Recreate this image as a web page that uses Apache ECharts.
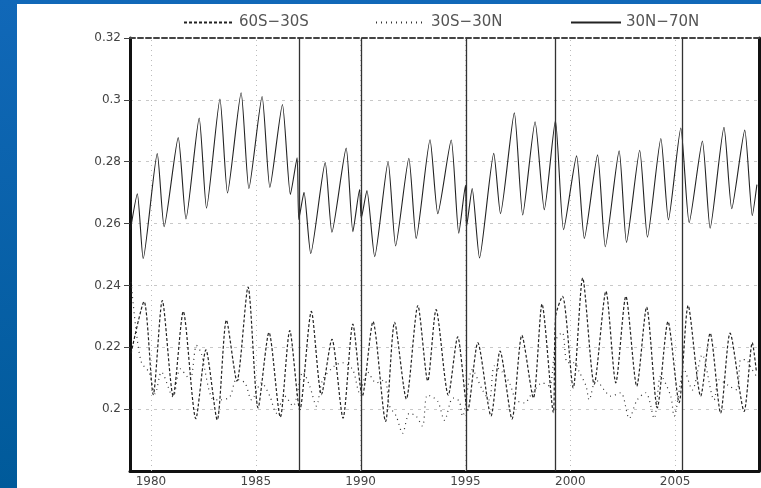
<!DOCTYPE html>
<html>
<head>
<meta charset="utf-8">
<script src="https://cdn.jsdelivr.net/npm/echarts@6/dist/echarts.min.js"></script>
<style>
  html, body { margin: 0; padding: 0; }
  body { width: 761px; height: 488px; background: linear-gradient(#1168b8, #005a9a); position: relative; overflow: hidden; }
  #chart { position: absolute; left: 17px; top: 4px; width: 744px; height: 484px; background: #fff; }
</style>
</head>
<body>
<div id="chart"></div>
<script>
// 60S-30S (dashed)
const southX = [1979.05, 1979.67, 1980.11, 1980.54, 1981.06, 1981.54, 1982.14, 1982.62, 1983.16, 1983.6,
  1984.1, 1984.63, 1985.11, 1985.63, 1986.17, 1986.62, 1987.1, 1987.65, 1988.13, 1988.63,
  1989.16, 1989.63, 1990.08, 1990.59, 1991.19, 1991.62, 1992.18, 1992.73, 1993.2, 1993.6,
  1994.18, 1994.63, 1995.11, 1995.59, 1996.22, 1996.65, 1997.22, 1997.69, 1998.24, 1998.65,
  1999.19, 1999.3, 1999.63, 2000.14, 2000.59, 2001.14, 2001.7, 2002.17, 2002.65, 2003.17,
  2003.64, 2004.15, 2004.66, 2005.19, 2005.62, 2006.22, 2006.67, 2007.17, 2007.62, 2008.29,
  2008.68, 2008.88];
const southY = [0.218, 0.2348, 0.2047, 0.2351, 0.2042, 0.2316, 0.1969, 0.2192, 0.1965, 0.2288,
  0.2091, 0.2395, 0.2004, 0.2248, 0.1974, 0.2254, 0.1998, 0.2316, 0.2047, 0.2226,
  0.1971, 0.2275, 0.2042, 0.2283, 0.196, 0.2281, 0.2033, 0.2335, 0.2091, 0.2322,
  0.2045, 0.2234, 0.1996, 0.2215, 0.1978, 0.2188, 0.1968, 0.2239, 0.2036, 0.234,
  0.1989, 0.23, 0.2365, 0.2069, 0.2424, 0.208, 0.2381, 0.2085, 0.2365, 0.2074,
  0.233, 0.2004, 0.2283, 0.2021, 0.2335, 0.2042, 0.2246, 0.1987, 0.2246, 0.1993,
  0.2215, 0.2118];

// 30S-30N (dotted)
const tropX = [1979.05, 1979.3, 1979.55, 1979.9, 1980.2, 1980.5, 1981.05, 1981.4, 1981.86, 1982.17,
  1982.4, 1982.9, 1983.3, 1983.76, 1984.08, 1984.48, 1984.8, 1985.27, 1985.67, 1985.98,
  1986.38, 1986.77, 1987.25, 1987.57, 1987.89, 1988.19, 1988.76, 1989.14, 1989.62, 1989.95,
  1990.33, 1990.74, 1991.14, 1991.38, 1991.7, 1992.0, 1992.33, 1992.65, 1992.95, 1993.19,
  1993.67, 1994.0, 1994.4, 1994.7, 1994.86, 1995.33, 1995.81, 1996.14, 1996.38, 1996.76,
  1997.1, 1997.41, 1997.81, 1998.19, 1998.67, 1999.0, 1999.32, 1999.62, 1999.86, 2000.19,
  2000.43, 2000.75, 2000.9, 2001.22, 2001.62, 2001.94, 2002.41, 2002.81, 2003.19, 2003.6,
  2004.0, 2004.32, 2004.79, 2004.95, 2005.43, 2005.82, 2006.29, 2006.86, 2007.1, 2007.57,
  2007.95, 2008.13, 2008.37, 2008.67, 2008.86];
const tropY = [0.241, 0.225, 0.215, 0.212, 0.205, 0.212, 0.204, 0.213, 0.2096, 0.2206,
  0.218, 0.2036, 0.203, 0.204, 0.2096, 0.2085, 0.203, 0.2085, 0.2042, 0.1987,
  0.2042, 0.201, 0.212, 0.2075, 0.201, 0.2095, 0.214, 0.215, 0.2128, 0.2053,
  0.212, 0.2085, 0.2095, 0.201, 0.1977, 0.1922, 0.1987, 0.1977, 0.1945, 0.2046,
  0.2026, 0.1964, 0.2036, 0.2026, 0.1977, 0.2128, 0.2062, 0.203, 0.214, 0.212,
  0.2085, 0.203, 0.202, 0.2053, 0.2085, 0.2075, 0.2225, 0.2248, 0.215, 0.215,
  0.212, 0.2075, 0.203, 0.2095, 0.2062, 0.2042, 0.2053, 0.197, 0.203, 0.2053,
  0.197, 0.2108, 0.2042, 0.1977, 0.2128, 0.2062, 0.2176, 0.203, 0.2095, 0.2075,
  0.2062, 0.216, 0.216, 0.2128, 0.2108];

// 30N-70N (solid)
const northX = [1979.02, 1979.35, 1979.63, 1980.3, 1980.63, 1981.3, 1981.67, 1982.3, 1982.65, 1983.29,
  1983.65, 1984.3, 1984.67, 1985.3, 1985.67, 1986.27, 1986.65, 1986.97, 1987.05, 1987.3,
  1987.62, 1988.31, 1988.63, 1989.31, 1989.63, 1989.95, 1990.03, 1990.3, 1990.67, 1991.31,
  1991.67, 1992.3, 1992.65, 1993.31, 1993.68, 1994.32, 1994.68, 1995.0, 1995.05, 1995.32,
  1995.67, 1996.35, 1996.67, 1997.33, 1997.73, 1998.32, 1998.76, 1999.29, 1999.68, 2000.3,
  2000.67, 2001.3, 2001.67, 2002.33, 2002.68, 2003.31, 2003.68, 2004.32, 2004.68, 2005.27,
  2005.67, 2006.3, 2006.67, 2007.33, 2007.7, 2008.32, 2008.68, 2008.9];
const northY = [0.258, 0.2696, 0.2487, 0.2826, 0.259, 0.2878, 0.2615, 0.2941, 0.265, 0.3003,
  0.2699, 0.3023, 0.2713, 0.3011, 0.2717, 0.2985, 0.2694, 0.2813, 0.2613, 0.2701,
  0.2503, 0.2797, 0.2572, 0.2844, 0.2574, 0.271, 0.2617, 0.2707, 0.2493, 0.28,
  0.2528, 0.2811, 0.2552, 0.2871, 0.2632, 0.287, 0.2569, 0.2724, 0.259, 0.2713,
  0.2489, 0.2827, 0.2632, 0.2958, 0.2628, 0.2929, 0.2645, 0.2933, 0.258, 0.2819,
  0.2552, 0.2822, 0.2525, 0.2835, 0.2539, 0.2837, 0.2556, 0.2875, 0.2612, 0.2909,
  0.2603, 0.2867, 0.2585, 0.2911, 0.2648, 0.2902, 0.2626, 0.2726];

const yearTicks = [1980, 1985, 1990, 1995, 2000, 2005];
const valueTicks = [0.2, 0.22, 0.24, 0.26, 0.28, 0.3, 0.32];
const breakYears = [1987.05, 1990.02, 1995.05, 1999.3, 2005.35];

const zip = (xs, ys) => xs.map((x, i) => [x, ys[i]]);
const font = "'DejaVu Sans', sans-serif";

const chart = echarts.init(document.getElementById("chart"));

// legend: line sample only, no marker dot
const legendBase = {
  top: 6,
  itemWidth: 50,
  itemHeight: 10,
  itemStyle: { color: "transparent", borderColor: "transparent", borderWidth: 0 },
  textStyle: { color: "#555", fontSize: 15, fontFamily: font },
};

chart.setOption({
  animation: false,
  grid: { left: 113, right: 2, top: 34, bottom: 17 },
  legend: [
    { ...legendBase, data: ["60S−30S"], left: 161 },
    { ...legendBase, data: ["30S−30N"], left: 353 },
    { ...legendBase, data: ["30N−70N"], left: 548 },
  ],
  xAxis: [
    {
      type: "value",
      min: 1979,
      max: 2009,
      axisLine: { lineStyle: { color: "#111", width: 3 } },
      axisTick: { show: false },
      axisLabel: {
        customValues: yearTicks,
        color: "#444",
        fontSize: 12,
        fontFamily: font,
        margin: 5,
        formatter: (v) => String(v),
      },
      splitLine: { show: false },
    },
    {
      type: "value",
      position: "top",
      min: 1979,
      max: 2009,
      axisLine: { lineStyle: { color: "#444", width: 2, type: [5, 3] } },
      axisTick: { show: false },
      axisLabel: { show: false },
      splitLine: { show: false },
    },
  ],
  yAxis: [
    {
      type: "value",
      min: 0.18,
      max: 0.32,
      interval: 0.02,
      axisLine: { show: true, lineStyle: { color: "#111", width: 3 } },
      axisTick: { show: true, length: 6, customValues: valueTicks, lineStyle: { color: "#444" } },
      axisLabel: {
        customValues: valueTicks,
        color: "#444",
        fontSize: 12,
        fontFamily: font,
        margin: 9,
        formatter: (v) => String(+v.toFixed(2)),
      },
      splitLine: { lineStyle: { color: "#c8c8c8", type: [3, 5] } },
    },
    {
      type: "value",
      position: "right",
      min: 0.18,
      max: 0.32,
      interval: 0.02,
      axisLine: { show: true, lineStyle: { color: "#111", width: 3 } },
      axisTick: { show: false },
      axisLabel: { show: false },
      splitLine: { show: false },
    },
  ],
  series: [
    {
      name: "60S−30S",
      type: "line",
      data: zip(southX, southY),
      symbol: "none",
      smooth: 0.25,
      lineStyle: { color: "#222", width: 1.2, type: [3, 2] },
      itemStyle: { color: "#222" },
      z: 3,
      markLine: {
        silent: true,
        symbol: "none",
        label: { show: false },
        lineStyle: { color: "#bbb", type: [1, 4], width: 1 },
        data: yearTicks.map((y) => ({ xAxis: y })),
        z: 1,
      },
    },
    {
      name: "30S−30N",
      type: "line",
      data: zip(tropX, tropY),
      symbol: "none",
      smooth: 0.3,
      lineStyle: { color: "#333", width: 1.2, type: [1, 4] },
      itemStyle: { color: "#333" },
      z: 3,
    },
    {
      name: "30N−70N",
      type: "line",
      data: zip(northX, northY),
      symbol: "none",
      smooth: 0.2,
      lineStyle: { color: "#222", width: 1.1 },
      itemStyle: { color: "#222" },
      z: 3,
      markLine: {
        silent: true,
        symbol: "none",
        label: { show: false },
        lineStyle: { color: "#333", type: "solid", width: 1.3 },
        data: breakYears.map((y) => ({ xAxis: y })),
      },
    },
  ],
});
</script>
</body>
</html>
